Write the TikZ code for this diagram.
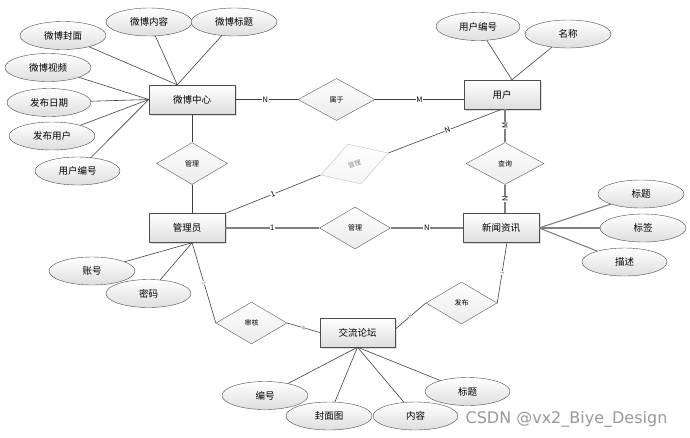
\documentclass[tikz,border=0pt]{standalone}
\usepackage{fontspec}
\newfontfamily\cjk{Noto Sans CJK SC}
\newfontfamily\wmfont{DejaVu Sans}
\usetikzlibrary{shapes,arrows,positioning,calc,shadows}

\begin{document}
\begin{tikzpicture}[x=1pt, y=-1pt,
    entity/.style={draw=black!70, rectangle, minimum width=76pt, minimum height=29pt, top color=white, bottom color=black!13, drop shadow={opacity=0.25, shadow xshift=1.5pt, shadow yshift=-1.5pt}, font=\cjk\fontsize{9.5}{11}\selectfont},
    attr/.style={draw=black!70, ellipse, minimum width=86pt, minimum height=28pt, inner sep=0pt, top color=white, bottom color=black!13, font=\cjk\fontsize{9.5}{11}\selectfont},
    rel/.style={draw=black!65, diamond, minimum width=71pt, minimum height=42pt, inner sep=0pt, top color=white, bottom color=black!8, font=\cjk\fontsize{7}{8}\selectfont},
    card/.style={fill=white, inner sep=0.6pt, font=\cjk\fontsize{7.5}{8}\selectfont},
    tiny/.style={fill=white, inner sep=0.3pt, text=black!60, font=\cjk\fontsize{5}{6}\selectfont},
    link/.style={draw=black!75, line width=0.6pt},
    heavy/.style={draw=black!50, line width=1.1pt}
]
\useasboundingbox (0,0) rectangle (690,437);

% Entities
\node[entity, minimum width=86pt] (blog) at (192,99.5) {微博中心};
\node[entity] (user) at (502,94.5) {用户};
\node[entity] (admin) at (187,228) {管理员};
\node[entity] (news) at (501,228) {新闻资讯};
\node[entity, minimum width=75pt] (forum) at (357.5,332.5) {交流论坛};

% Relations
\node[rel, minimum width=77pt] (belong) at (336.5,99.5) {属于};
\node[rel] (manageA) at (192,163.5) {管理};
\node[rel, rotate=18, draw=black!25, text=black!45, bottom color=black!4, font=\cjk\fontsize{6.5}{7}\selectfont] (manageB) at (354.5,164) {管理};
\node[rel, minimum width=78pt] (query) at (505,163.5) {查询};
\node[rel] (manageC) at (355,228) {管理};
\node[rel] (audit) at (251.5,323) {审核};
\node[rel] (publish) at (461.5,303) {发布};

% Attributes of 微博中心
\node[attr] (bCover) at (63,35.5) {微博封面};
\node[attr] (bText) at (149,22) {微博内容};
\node[attr] (bTitle) at (234,22) {微博标题};
\node[attr] (bVideo) at (48,67.5) {微博视频};
\node[attr, minimum width=84pt] (bDate) at (49,102.5) {发布日期};
\node[attr] (bUser) at (52,136) {发布用户};
\node[attr, minimum width=85pt] (bUid) at (77.5,171) {用户编号};

% Attributes of 用户
\node[attr, minimum width=84pt] (uId) at (478,26.5) {用户编号};
\node[attr] (uName) at (568,34) {名称};

% Attributes of 新闻资讯
\node[attr] (nTitle) at (641,194) {标题};
\node[attr] (nTag) at (643,228) {标签};
\node[attr, minimum width=85pt] (nDesc) at (624.5,262) {描述};

% Attributes of 管理员
\node[attr] (aAcc) at (92,271) {账号};
\node[attr, minimum width=85pt] (aPwd) at (148.5,293.5) {密码};

% Attributes of 交流论坛
\node[attr] (fId) at (265,395.5) {编号};
\node[attr] (fCover) at (329,416) {封面图};
\node[attr, minimum width=85pt] (fText) at (415.5,416) {内容};
\node[attr, minimum width=85pt] (fTitle) at (467.5,391.5) {标题};

% Attribute links
\foreach \a in {bCover,bText,bTitle} \draw[link] (blog.135) -- (\a);
\foreach \a in {bVideo,bDate,bUser,bUid} \draw[link] (blog.west) -- (\a);
\foreach \a in {uId,uName} \draw[link] (user.56) -- (\a);
\foreach \a in {nTitle,nTag,nDesc} \draw[heavy] (news.east) -- (\a);
\foreach \a in {aAcc,aPwd} \draw[link] (admin.289) -- (\a);
\foreach \a in {fId,fCover,fText,fTitle} \draw[link] (forum.south) -- (\a);

% Relation links
\draw[link] (blog.east) -- node[card, pos=0.48] {N} (belong.west);
\draw[link] (belong.east) -- node[card] {M} (belong.east -| user.west);
\draw[link] (blog.south) -- (manageA.north);
\draw[link] (manageA.south) -- (manageA.south |- admin.north);
\draw[link] (admin.north east) -- node[card, sloped] {1} (manageB.west);
\draw[link] (manageB.east) -- node[card, sloped, pos=0.52] {N} (user.south);
\draw[heavy] (query.north |- user.south) -- node[card, rotate=90] {M} (query.north);
\draw[heavy] (query.south) -- node[card, rotate=90] {N} (query.south |- news.north);
\draw[heavy] (admin.east) -- node[card] {1} (manageC.west);
\draw[heavy] (manageC.east) -- node[card] {N} (news.west);
\draw[link] (admin.289) -- node[tiny, sloped] {1} (audit.west);
\draw[link] (audit.east) -- node[tiny, sloped] {N} (forum.west);
\draw[link] (news.292) -- node[tiny, sloped] {1} (publish.east);
\draw[link] (publish.west) -- node[tiny, sloped] {N} (forum.5);

% Watermark
\node[anchor=base, text=black!40, font=\wmfont\fontsize{16}{18}\selectfont] (wm) at (566.5,423) {CSDN @vx2\_Biye\_Design};

\end{tikzpicture}
\end{document}
